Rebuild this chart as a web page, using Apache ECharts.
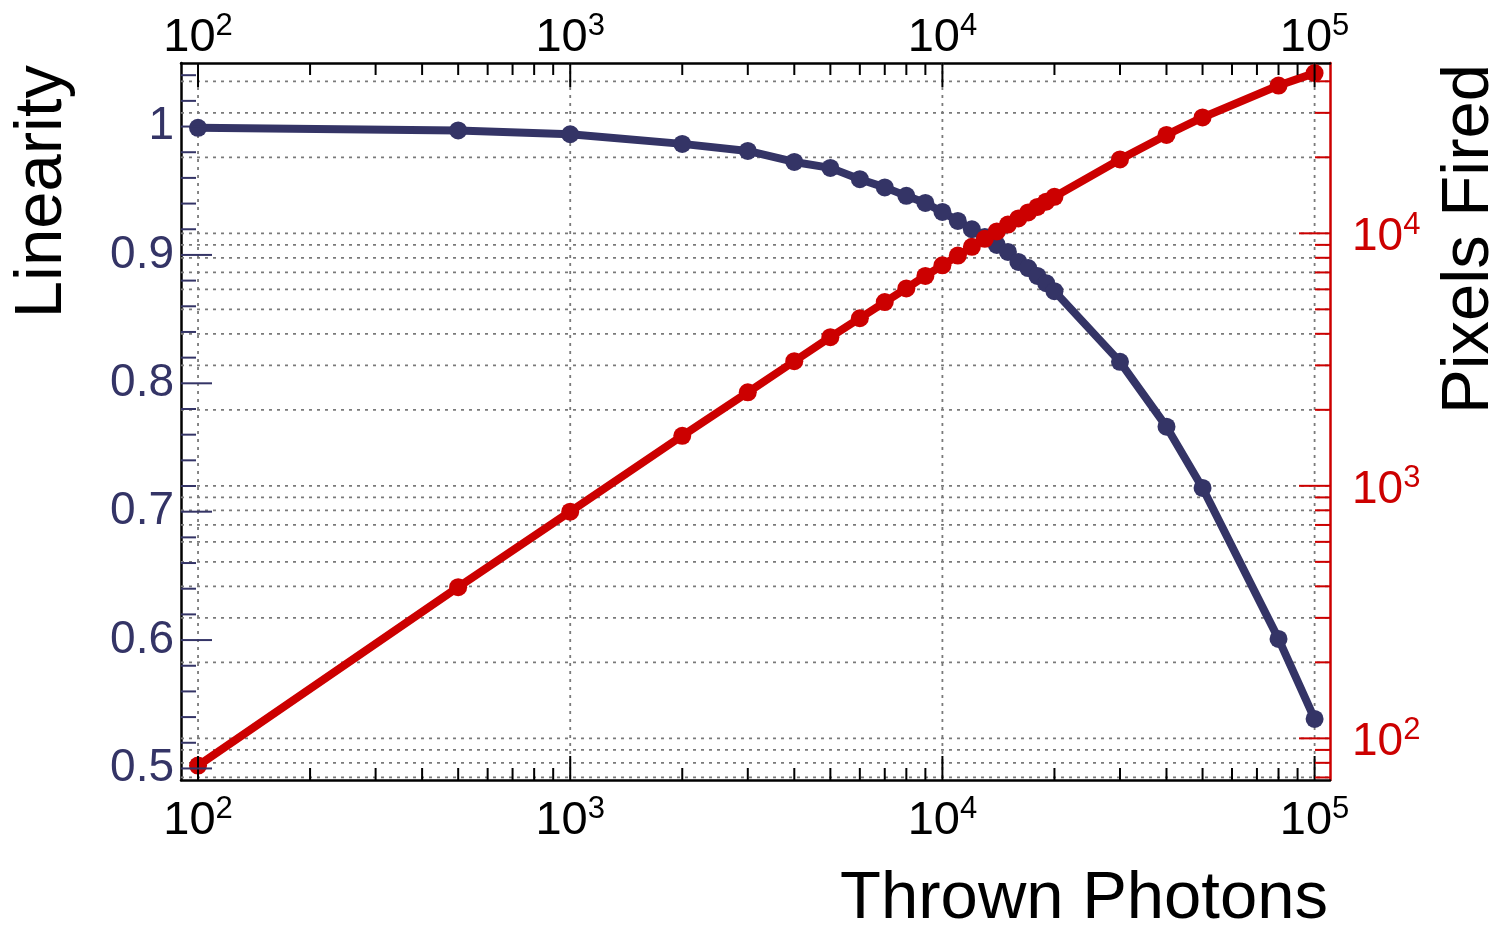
<!DOCTYPE html>
<html>
<head>
<meta charset="utf-8">
<script src="https://cdn.jsdelivr.net/npm/echarts@6/dist/echarts.min.js"></script>
<style>
html,body{margin:0;padding:0;background:#fff;}
#chart{width:1508px;height:927px;}
</style>
</head>
<body>
<div id="chart"></div>
<script>
// ---- data ----
var photons = [100, 500, 1000, 2000, 3000, 4000, 5000, 6000, 7000, 8000, 9000, 10000,
  11000, 12000, 13000, 14000, 15000, 16000, 17000, 18000, 19000, 20000,
  30000, 40000, 50000, 80000, 100000];
var linearity = [0.999, 0.997, 0.994, 0.9865, 0.981, 0.9724, 0.9678, 0.959, 0.9526, 0.946, 0.9405, 0.9335,
  0.9265, 0.920, 0.914, 0.9078, 0.9023, 0.8945, 0.8898, 0.8836, 0.878, 0.8718,
  0.8167, 0.7662, 0.7185, 0.6009, 0.5386];
var pixelsFired = [78, 397, 790, 1578, 2345, 3115, 3880, 4610, 5340, 6050, 6780, 7470,
  8160, 8840, 9510, 10170, 10830, 11450, 12100, 12720, 13340, 13950,
  19620, 24530, 28760, 38480, 43100];

// ---- ticks ----
var xMajorTicks = [100, 1000, 10000, 100000];
var xMinorTicks = [200, 300, 400, 500, 600, 700, 800, 900,
  2000, 3000, 4000, 5000, 6000, 7000, 8000, 9000,
  20000, 30000, 40000, 50000, 60000, 70000, 80000, 90000];
var leftMajorTicks = [0.5, 0.6, 0.7, 0.8, 0.9, 1.0];
var leftMinorTicks = [0.52, 0.54, 0.56, 0.58, 0.62, 0.64, 0.66, 0.68, 0.72, 0.74, 0.76, 0.78,
  0.82, 0.84, 0.86, 0.88, 0.92, 0.94, 0.96, 0.98, 1.02, 1.04];
var rightMajorTicks = [100, 1000, 10000];
var rightMinorTicks = [70, 80, 90, 200, 300, 400, 500, 600, 700, 800, 900,
  2000, 3000, 4000, 5000, 6000, 7000, 8000, 9000, 20000, 30000, 40000];

// ---- ranges ----
var X_MIN = 90, X_MAX = 110000;
var LIN_MIN = 0.491, LIN_MAX = 1.0495;
var PIX_MIN = 68.4, PIX_MAX = 47260;

var BLUE = '#343466', RED = '#cc0000';
var FONT = 'Liberation Sans, Arial, Helvetica, sans-serif';

function powLabel(value) {
  var e = Math.log(value) / Math.LN10;
  var r = Math.round(e);
  if (Math.abs(e - r) > 1e-6) return '';
  return '{b|10}{s|' + r + '}';
}
function richFor(size, supSize) {
  return {
    b: {fontSize: size, lineHeight: size, padding: [8, 0, 0, 0], fontFamily: FONT},
    s: {fontSize: supSize, lineHeight: supSize, verticalAlign: 'top', fontFamily: FONT}
  };
}
function linLabel(v) {
  var t = Math.round(v * 10);
  if (Math.abs(v * 10 - t) > 1e-6) return '';
  return t === 10 ? '1' : (t / 10).toFixed(1);
}

var gridStyle = {stroke: '#7a7a7a', lineWidth: 1.8, lineDash: [3, 5]};

function xGridSeries(values) {
  return {
    type: 'custom', xAxisIndex: 0, yAxisIndex: 0, z: 1, silent: true,
    data: values.map(function (v) { return [v]; }),
    renderItem: function (params, api) {
      var cs = params.coordSys;
      var px = api.coord([api.value(0), LIN_MIN])[0];
      return {type: 'line', shape: {x1: px, y1: cs.y, x2: px, y2: cs.y + cs.height}, style: gridStyle};
    }
  };
}
function yGridSeries(values) {
  return {
    type: 'custom', xAxisIndex: 0, yAxisIndex: 1, z: 1, silent: true,
    data: values.map(function (v) { return [X_MIN, v]; }),
    renderItem: function (params, api) {
      var cs = params.coordSys;
      var py = api.coord([X_MIN, api.value(1)])[1];
      return {type: 'line', shape: {x1: cs.x, y1: py, x2: cs.x + cs.width, y2: py}, style: gridStyle};
    }
  };
}
function xTickSeries(values, len) {
  return {
    type: 'custom', xAxisIndex: 0, yAxisIndex: 0, z: 6, silent: true,
    data: values.map(function (v) { return [v]; }),
    renderItem: function (params, api) {
      var cs = params.coordSys;
      var px = api.coord([api.value(0), LIN_MIN])[0];
      var st = {stroke: '#000', lineWidth: 2};
      return {type: 'group', children: [
        {type: 'line', shape: {x1: px, y1: cs.y + cs.height, x2: px, y2: cs.y + cs.height - len}, style: st},
        {type: 'line', shape: {x1: px, y1: cs.y, x2: px, y2: cs.y + len}, style: st}
      ]};
    }
  };
}
function leftTickSeries(values, len) {
  return {
    type: 'custom', xAxisIndex: 0, yAxisIndex: 0, z: 6, silent: true,
    data: values.map(function (v) { return [X_MIN, v]; }),
    renderItem: function (params, api) {
      var cs = params.coordSys;
      var py = api.coord([X_MIN, api.value(1)])[1];
      return {type: 'line', shape: {x1: cs.x, y1: py, x2: cs.x + len, y2: py}, style: {stroke: BLUE, lineWidth: 2}};
    }
  };
}
function rightTickSeries(values, len) {
  return {
    type: 'custom', xAxisIndex: 0, yAxisIndex: 1, z: 6, silent: true,
    data: values.map(function (v) { return [X_MIN, v]; }),
    renderItem: function (params, api) {
      var cs = params.coordSys;
      var py = api.coord([X_MIN, api.value(1)])[1];
      var xr = cs.x + cs.width;
      return {type: 'line', shape: {x1: xr, y1: py, x2: xr - len, y2: py}, style: {stroke: RED, lineWidth: 2}};
    }
  };
}

var chart = echarts.init(document.getElementById('chart'), null, {renderer: 'canvas'});
var titleStyle = {fontSize: 67, lineHeight: 67, fontFamily: FONT, color: '#000'};

chart.setOption({
  animation: false,
  backgroundColor: '#fff',
  grid: {left: 181, top: 63, width: 1149, height: 717, containLabel: false, outerBoundsMode: 'none'},
  xAxis: [
    {
      type: 'log', logBase: 10, min: X_MIN, max: X_MAX, position: 'bottom',
      axisLine: {show: true, onZero: false, lineStyle: {color: '#000', width: 2.5}},
      axisTick: {show: false}, splitLine: {show: false}, minorTick: {show: false},
      axisLabel: {formatter: powLabel, rich: richFor(47, 31), margin: 14, color: '#000', fontFamily: FONT},
      name: 'Thrown Photons', nameLocation: 'end', nameGap: -2, nameMoveOverlap: false,
      nameTextStyle: Object.assign({align: 'right', verticalAlign: 'top', padding: [86, 0, 0, 0]}, titleStyle)
    },
    {
      type: 'log', logBase: 10, min: X_MIN, max: X_MAX, position: 'top',
      axisLine: {show: true, onZero: false, lineStyle: {color: '#000', width: 2.5}},
      axisTick: {show: false}, splitLine: {show: false}, minorTick: {show: false},
      axisLabel: {formatter: powLabel, rich: richFor(47, 31), margin: 5, color: '#000', fontFamily: FONT}
    }
  ],
  yAxis: [
    {
      type: 'value', min: LIN_MIN, max: LIN_MAX, position: 'left',
      axisLine: {show: true, onZero: false, lineStyle: {color: '#000', width: 2.5}},
      axisTick: {show: false}, splitLine: {show: false}, minorTick: {show: false},
      axisLabel: {formatter: linLabel, color: BLUE, fontSize: 46, fontFamily: FONT, margin: 7, padding: [6, 0, 0, 0]},
      name: 'Linearity', nameLocation: 'end', nameGap: -2, nameRotate: 90, nameMoveOverlap: false,
      nameTextStyle: Object.assign({align: 'right', verticalAlign: 'bottom', padding: [0, 0, 105, 0]}, titleStyle)
    },
    {
      type: 'log', logBase: 10, min: PIX_MIN, max: PIX_MAX, position: 'right',
      axisLine: {show: true, onZero: false, lineStyle: {color: RED, width: 2.5}},
      axisTick: {show: false}, splitLine: {show: false}, minorTick: {show: false},
      axisLabel: {formatter: powLabel, rich: richFor(46, 31), margin: 22, color: RED, fontFamily: FONT},
      name: 'Pixels Fired', nameLocation: 'end', nameGap: -1, nameRotate: 90, nameMoveOverlap: false,
      nameTextStyle: Object.assign({align: 'right', verticalAlign: 'top', padding: [106, 0, 0, 0]}, titleStyle)
    }
  ],
  series: [
    xGridSeries(xMajorTicks),
    yGridSeries(rightMajorTicks.concat(rightMinorTicks)),
    {
      name: 'Linearity', type: 'line', xAxisIndex: 0, yAxisIndex: 0, z: 3,
      data: photons.map(function (p, i) { return [p, linearity[i]]; }),
      symbol: 'circle', symbolSize: 18, showSymbol: true,
      lineStyle: {color: BLUE, width: 8}, itemStyle: {color: BLUE}
    },
    {
      name: 'Pixels Fired', type: 'line', xAxisIndex: 0, yAxisIndex: 1, z: 4,
      data: photons.map(function (p, i) { return [p, pixelsFired[i]]; }),
      symbol: 'circle', symbolSize: 18, showSymbol: true,
      lineStyle: {color: RED, width: 8}, itemStyle: {color: RED}
    },
    xTickSeries(xMajorTicks, 24),
    xTickSeries(xMinorTicks, 12),
    leftTickSeries(leftMajorTicks, 31),
    leftTickSeries(leftMinorTicks, 15),
    rightTickSeries(rightMajorTicks, 31),
    rightTickSeries(rightMinorTicks, 15)
  ]
});
</script>
</body>
</html>
